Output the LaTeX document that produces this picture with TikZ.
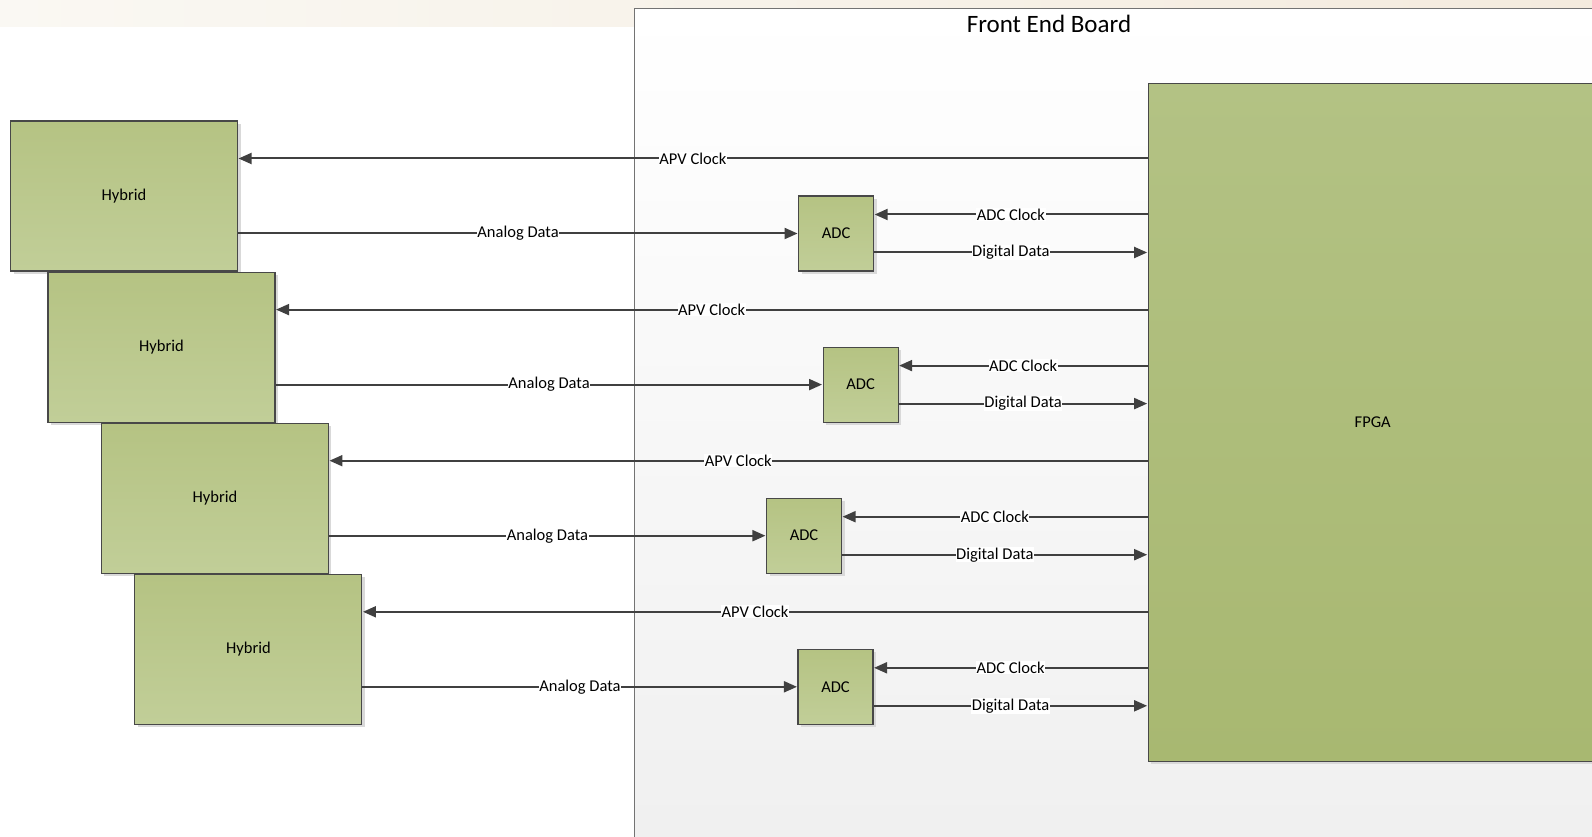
\documentclass[tikz,border=0pt]{standalone}
\usepackage{fontspec}
\setmainfont{Carlito}
\usepackage{xcolor}
\usepackage{tikz}
\usetikzlibrary{positioning, arrows.meta, shadows}

\definecolor{hybTop}{RGB}{181,195,131}
\definecolor{hybBot}{RGB}{193,206,152}
\definecolor{fpgaTop}{RGB}{179,194,132}
\definecolor{fpgaBot}{RGB}{168,184,113}
\definecolor{boxline}{RGB}{72,72,72}
\definecolor{wire}{RGB}{64,64,64}
\definecolor{bandL}{RGB}{250,248,243}
\definecolor{bandR}{RGB}{244,235,222}

\begin{document}
\begin{tikzpicture}[x=1pt,y=1pt,>={Triangle[length=13pt,width=11pt]},shorten >=0.5pt,
    font=\fontsize{16.5}{20}\selectfont,
    box/.style={draw=boxline, line width=1.1pt,
        drop shadow={shadow xshift=3pt, shadow yshift=-3pt, fill=black!15, opacity=1}},
    hybrid/.style={box, minimum width=227pt, minimum height=150pt, top color=hybTop, bottom color=hybBot},
    adc/.style={box, minimum width=75pt, minimum height=75pt, top color=hybTop, bottom color=hybBot},
    fpgabox/.style={box, minimum width=449pt, minimum height=678pt, top color=fpgaTop, bottom color=fpgaBot},
    board/.style={draw=black!55, line width=1.2pt, top color=white, bottom color=black!6},
    sig/.style={->, color=wire, line width=2pt},
    lbl/.style={fill=white, inner sep=0.6pt, text=black}]
    \useasboundingbox (0,0) rectangle (1592,836);

    % background
    \fill[left color=bandL, right color=bandR] (0,836) rectangle (1592,809);
    \node[board, anchor=north west, minimum width=980pt, minimum height=840pt, inner sep=0pt] (feb) at (633.5,828) {};
    \node[font=\fontsize{25}{30}\selectfont] (febtitle) at (1049,812) {Front End Board};

    % hybrids
    \node[hybrid] (h1) at (124,640) {Hybrid};
    \node[hybrid] (h2) [below=0pt of h1, xshift=37.5pt] {Hybrid};
    \node[hybrid] (h3) [below=0pt of h2, xshift=53.4pt] {Hybrid};
    \node[hybrid] (h4) [below=0pt of h3, xshift=33.5pt] {Hybrid};

    % adcs
    \node[adc] (a1) [right=560pt of h1, yshift=-37.5pt] {ADC};
    \node[adc] (a2) [right=547pt of h2, yshift=-37.5pt] {ADC};
    \node[adc] (a3) [right=437pt of h3, yshift=-37.5pt] {ADC};
    \node[adc] (a4) [right=435pt of h4, yshift=-37.5pt] {ADC};

    \node[fpgabox] (fpga) at (1372.7,413.6) {FPGA};

    \path[sig] ([yshift=37.5pt]h1.east -| fpga.west) edge node[lbl] {APV Clock} ([yshift=37.5pt]h1.east)
          ([yshift=-37.5pt]h1.east) edge node[lbl] {Analog Data} (a1.west)
          ([yshift=19pt]a1.east -| fpga.west) edge node[lbl] {ADC Clock} ([yshift=19pt]a1.east)
          ([yshift=-19pt]a1.east) edge node[lbl] {Digital Data} ([yshift=-19pt]a1.east -| fpga.west)
          ([yshift=37.5pt]h2.east -| fpga.west) edge node[lbl] {APV Clock} ([yshift=37.5pt]h2.east)
          ([yshift=-37.5pt]h2.east) edge node[lbl] {Analog Data} (a2.west)
          ([yshift=19pt]a2.east -| fpga.west) edge node[lbl] {ADC Clock} ([yshift=19pt]a2.east)
          ([yshift=-19pt]a2.east) edge node[lbl] {Digital Data} ([yshift=-19pt]a2.east -| fpga.west)
          ([yshift=37.5pt]h3.east -| fpga.west) edge node[lbl] {APV Clock} ([yshift=37.5pt]h3.east)
          ([yshift=-37.5pt]h3.east) edge node[lbl] {Analog Data} (a3.west)
          ([yshift=19pt]a3.east -| fpga.west) edge node[lbl] {ADC Clock} ([yshift=19pt]a3.east)
          ([yshift=-19pt]a3.east) edge node[lbl] {Digital Data} ([yshift=-19pt]a3.east -| fpga.west)
          ([yshift=37.5pt]h4.east -| fpga.west) edge node[lbl] {APV Clock} ([yshift=37.5pt]h4.east)
          ([yshift=-37.5pt]h4.east) edge node[lbl] {Analog Data} (a4.west)
          ([yshift=19pt]a4.east -| fpga.west) edge node[lbl] {ADC Clock} ([yshift=19pt]a4.east)
          ([yshift=-19pt]a4.east) edge node[lbl] {Digital Data} ([yshift=-19pt]a4.east -| fpga.west);
\end{tikzpicture}
\end{document}
